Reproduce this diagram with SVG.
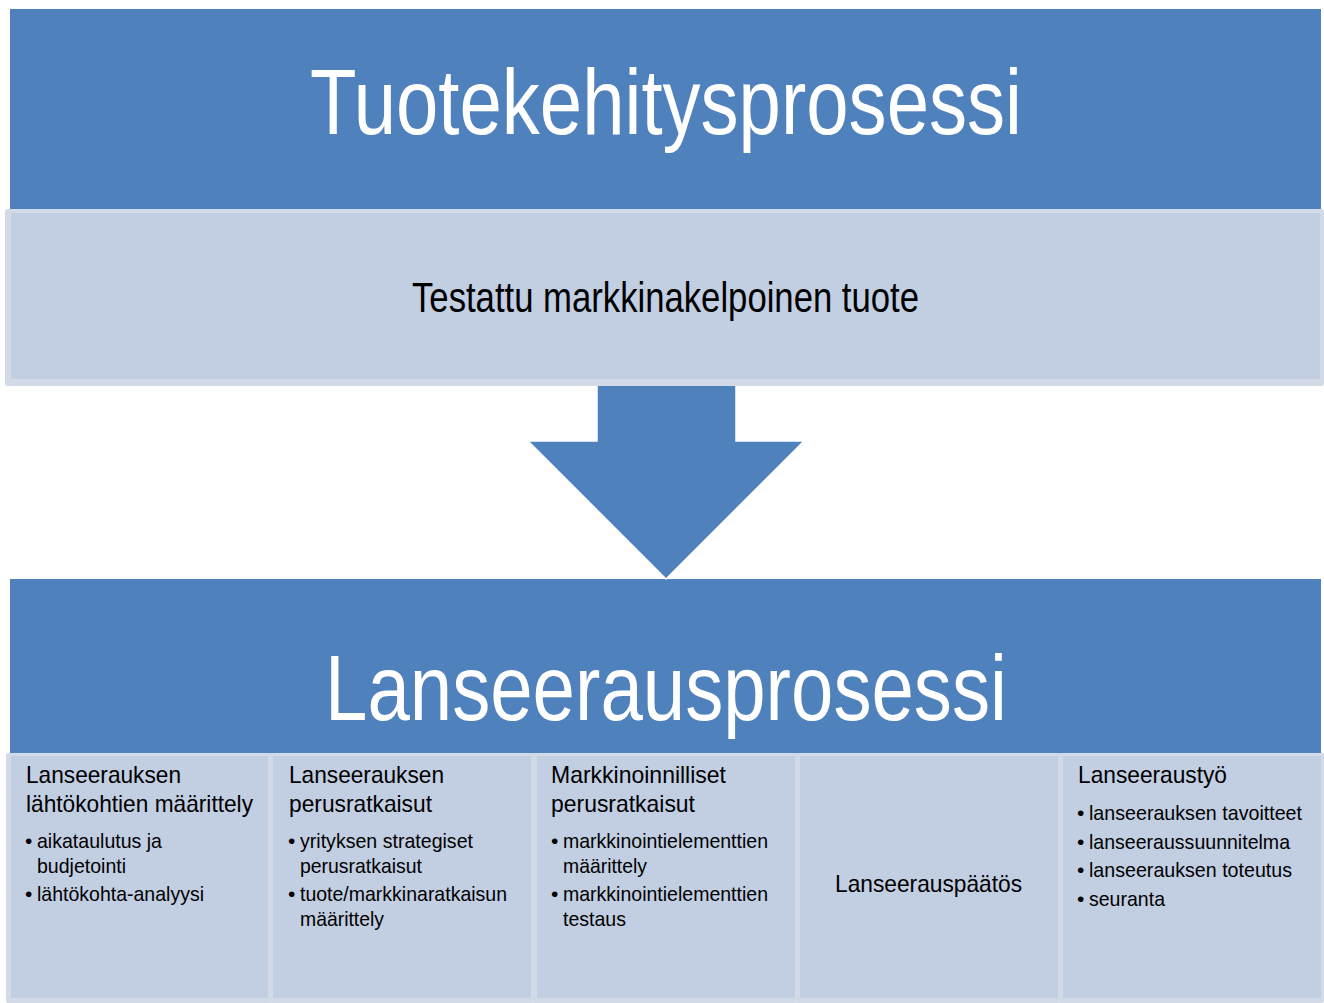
<svg xmlns="http://www.w3.org/2000/svg" width="1324" height="1003" viewBox="0 0 1324 1003">
<style>
.dark{fill:#4f81bd}
.lborder{fill:#d2dae8}
.lfill{fill:#c2cee2}
.title{font-family:"Liberation Sans",Arial,sans-serif;font-size:93px;fill:#ffffff}
.mid{font-family:"Liberation Sans",Arial,sans-serif;font-size:42px;fill:#000000}
.h{font-family:"Liberation Sans",Arial,sans-serif;font-size:24px;fill:#000000}
.b{font-family:"Liberation Sans",Arial,sans-serif;font-size:21px;fill:#000000}
</style>
<rect width="1324" height="1003" fill="#ffffff"/>
<g id="tuotekehitys">
<rect class="dark" x="10" y="9" width="1311" height="200"/>
<text class="title" x="310" y="134" textLength="712" lengthAdjust="spacingAndGlyphs">Tuotekehitysprosessi</text>
</g>
<g id="lanseeraus-banner">
<rect class="dark" x="10" y="579" width="1311" height="175"/>
<text class="title" x="325" y="720" textLength="682" lengthAdjust="spacingAndGlyphs">Lanseerausprosessi</text>
</g>
<g id="connectors">
<path d="M597,370 L736,370 L736,441 L804,441 L666,579 L528,441 L597,441 Z" fill="#4f81bd" stroke="#ffffff" stroke-width="1.5" stroke-linejoin="miter"/>
</g>
<g id="testattu">
<rect class="lborder" x="5" y="209" width="1319" height="177" rx="3"/>
<rect class="lfill" x="11" y="213" width="1309" height="166"/>
<text class="mid" x="412" y="312" textLength="507" lengthAdjust="spacingAndGlyphs">Testattu markkinakelpoinen tuote</text>
</g>
<g id="col1">
<rect class="lborder" x="6" y="753" width="265" height="250" rx="2"/>
<rect class="lfill" x="11" y="756" width="257" height="242"/>
<text class="h" x="26" y="783" textLength="155" lengthAdjust="spacingAndGlyphs">Lanseerauksen</text>
<text class="h" x="26" y="812" textLength="227" lengthAdjust="spacingAndGlyphs">lähtökohtien määrittely</text>
<text class="b" x="25" y="848">•</text>
<text class="b" x="37" y="848" textLength="125" lengthAdjust="spacingAndGlyphs">aikataulutus ja</text>
<text class="b" x="37" y="873" textLength="89" lengthAdjust="spacingAndGlyphs">budjetointi</text>
<text class="b" x="25" y="901">•</text>
<text class="b" x="37" y="901" textLength="167" lengthAdjust="spacingAndGlyphs">lähtökohta-analyysi</text>
</g>
<g id="col2">
<rect class="lborder" x="269" y="753" width="265" height="250" rx="2"/>
<rect class="lfill" x="273" y="756" width="258" height="242"/>
<text class="h" x="289" y="783" textLength="155" lengthAdjust="spacingAndGlyphs">Lanseerauksen</text>
<text class="h" x="289" y="812" textLength="143" lengthAdjust="spacingAndGlyphs">perusratkaisut</text>
<text class="b" x="288" y="848">•</text>
<text class="b" x="300" y="848" textLength="173" lengthAdjust="spacingAndGlyphs">yrityksen strategiset</text>
<text class="b" x="300" y="873" textLength="122" lengthAdjust="spacingAndGlyphs">perusratkaisut</text>
<text class="b" x="288" y="901">•</text>
<text class="b" x="300" y="901" textLength="207" lengthAdjust="spacingAndGlyphs">tuote/markkinaratkaisun</text>
<text class="b" x="300" y="926" textLength="84" lengthAdjust="spacingAndGlyphs">määrittely</text>
</g>
<g id="col3">
<rect class="lborder" x="532" y="753" width="265" height="250" rx="2"/>
<rect class="lfill" x="537" y="756" width="258" height="242"/>
<text class="h" x="551" y="783" textLength="175" lengthAdjust="spacingAndGlyphs">Markkinoinnilliset</text>
<text class="h" x="551" y="812" textLength="144" lengthAdjust="spacingAndGlyphs">perusratkaisut</text>
<text class="b" x="551" y="848">•</text>
<text class="b" x="563" y="848" textLength="205" lengthAdjust="spacingAndGlyphs">markkinointielementtien</text>
<text class="b" x="563" y="873" textLength="84" lengthAdjust="spacingAndGlyphs">määrittely</text>
<text class="b" x="551" y="901">•</text>
<text class="b" x="563" y="901" textLength="205" lengthAdjust="spacingAndGlyphs">markkinointielementtien</text>
<text class="b" x="563" y="926" textLength="63" lengthAdjust="spacingAndGlyphs">testaus</text>
</g>
<g id="col4">
<rect class="lborder" x="795" y="753" width="265" height="250" rx="2"/>
<rect class="lfill" x="800" y="756" width="258" height="242"/>
<text class="h" x="835" y="892" textLength="187" lengthAdjust="spacingAndGlyphs">Lanseerauspäätös</text>
</g>
<g id="col5">
<rect class="lborder" x="1058" y="753" width="266" height="250" rx="2"/>
<rect class="lfill" x="1063" y="756" width="258" height="242"/>
<text class="h" x="1078" y="783" textLength="149" lengthAdjust="spacingAndGlyphs">Lanseeraustyö</text>
<text class="b" x="1077" y="820">•</text>
<text class="b" x="1089" y="820" textLength="213" lengthAdjust="spacingAndGlyphs">lanseerauksen tavoitteet</text>
<text class="b" x="1077" y="849">•</text>
<text class="b" x="1089" y="849" textLength="201" lengthAdjust="spacingAndGlyphs">lanseeraussuunnitelma</text>
<text class="b" x="1077" y="877">•</text>
<text class="b" x="1089" y="877" textLength="203" lengthAdjust="spacingAndGlyphs">lanseerauksen toteutus</text>
<text class="b" x="1077" y="906">•</text>
<text class="b" x="1089" y="906" textLength="76" lengthAdjust="spacingAndGlyphs">seuranta</text>
</g>
</svg>
